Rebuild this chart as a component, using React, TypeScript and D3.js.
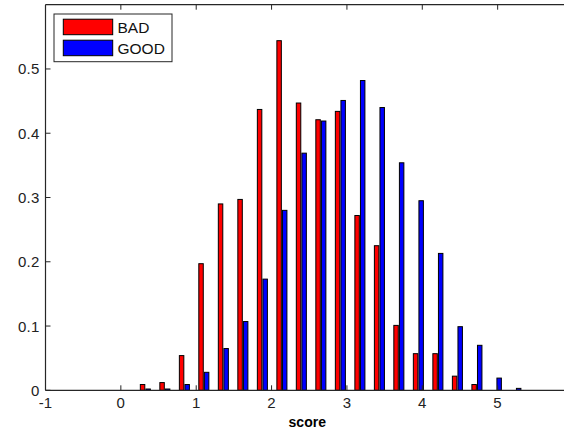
import React from "react";
import * as d3 from "d3";

const binCenters = [0.325, 0.584, 0.843, 1.101, 1.36, 1.619, 1.878, 2.137, 2.395, 2.654, 2.913, 3.172, 3.431, 3.689, 3.948, 4.207, 4.466, 4.725, 4.983, 5.242];
const badValues = [0.009, 0.012, 0.054, 0.197, 0.29, 0.297, 0.437, 0.544, 0.447, 0.421, 0.434, 0.272, 0.225, 0.101, 0.057, 0.057, 0.022, 0.009, 0, 0];
const goodValues = [0.002, 0.002, 0.009, 0.028, 0.065, 0.107, 0.173, 0.28, 0.369, 0.419, 0.451, 0.482, 0.44, 0.354, 0.295, 0.213, 0.099, 0.07, 0.019, 0.003];
const seriesNames = ["BAD", "GOOD"];
const seriesColors = ["#ff0000", "#0000ff"];
const xTicks = [-1, 0, 1, 2, 3, 4, 5];
const yTicks = [0, 0.1, 0.2, 0.3, 0.4, 0.5];
const xLabel = "score";

const W = 564;
const H = 430;
const L = 45.5;
const R = 573;
const T = 4.7;
const B = 390.3;

export default function App() {
  const x = d3.scaleLinear().domain([-1, 6]).range([L, R]);
  const y = d3.scaleLinear().domain([0, 0.6]).range([B, T]);
  const spacing = binCenters[1] - binCenters[0];
  const groupW = spacing * Math.min(0.8, 2 / 3.5);
  const barW = (groupW / 2) * 0.8;
  const offsets = [-groupW / 4, groupW / 4];
  const series = [badValues, goodValues];
  const font = "'Liberation Sans', Arial, Helvetica, sans-serif";
  const axisColor = "#262626";

  return (
    <svg width={W} height={H} style={{ position: "absolute", left: 0, top: 0, background: "#fff" }} fontFamily={font}>
      <rect x={0} y={0} width={W} height={H} fill="#fff" />
      {series.map((vals, si) =>
        vals.map((v, i) => {
          if (v <= 0) return null;
          const cx = binCenters[i] + offsets[si];
          const x0 = x(cx - barW / 2);
          const x1 = x(cx + barW / 2);
          return (
            <rect
              key={`${si}-${i}`}
              x={x0}
              y={y(v)}
              width={x1 - x0}
              height={y(0) - y(v)}
              fill={seriesColors[si]}
              stroke="#000"
              strokeWidth={1}
            />
          );
        })
      )}
      {/* axes box */}
      <line x1={L} x2={R} y1={B} y2={B} stroke={axisColor} strokeWidth={1.2} />
      <line x1={L} x2={R} y1={T} y2={T} stroke={axisColor} strokeWidth={1.2} />
      <line x1={L} x2={L} y1={T} y2={B} stroke={axisColor} strokeWidth={1.2} />
      {xTicks.map((t) => (
        <g key={`xt${t}`}>
          <line x1={x(t)} x2={x(t)} y1={B} y2={B - 5} stroke={axisColor} />
          <line x1={x(t)} x2={x(t)} y1={T} y2={T + 5} stroke={axisColor} />
          <text x={x(t)} y={408.3} textAnchor="middle" fontSize={15} fill="#222" letterSpacing={0.2}>
            {t}
          </text>
        </g>
      ))}
      {yTicks.map((t) => (
        <g key={`yt${t}`}>
          <line x1={L} x2={L + 5} y1={y(t)} y2={y(t)} stroke={axisColor} />
          <text x={39.5} y={y(t) + 5.5} textAnchor="end" fontSize={15} fill="#222" letterSpacing={0.2}>
            {t}
          </text>
        </g>
      ))}
      <text x={(L + R) / 2 - 2} y={426.5} textAnchor="middle" fontSize={14} fontWeight="bold" fill="#000">
        {xLabel}
      </text>
      {/* legend */}
      <rect x={54} y={14} width={118} height={47.7} fill="#fff" stroke={axisColor} strokeWidth={1} />
      {seriesNames.map((name, i) => (
        <g key={name}>
          <rect x={63.3} y={19.2 + i * 21} width={49.4} height={15.5} fill={seriesColors[i]} stroke="#000" strokeWidth={1} />
          <text x={117.5} y={32.8 + i * 21} fontSize={15.5} fill="#111">
            {name}
          </text>
        </g>
      ))}
    </svg>
  );
}
